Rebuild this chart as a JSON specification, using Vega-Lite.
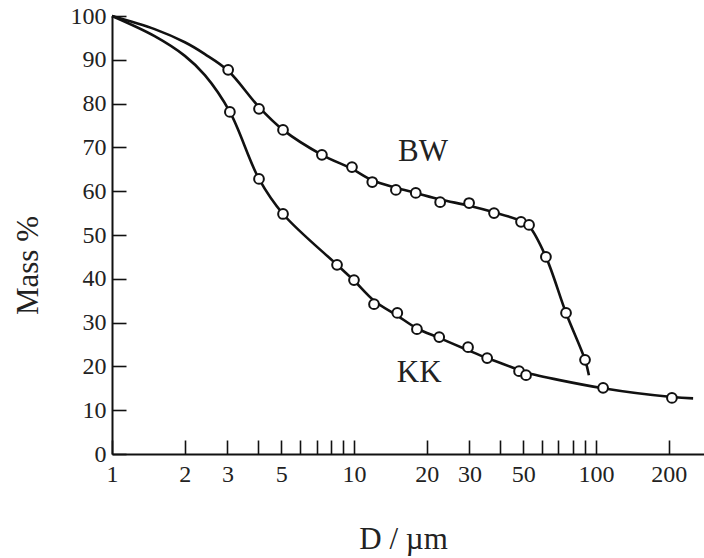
{
  "$schema": "https://vega.github.io/schema/vega-lite/v6.json",
  "width": 592,
  "height": 438,
  "autosize": "none",
  "padding": {"left": 112, "top": 16, "right": 0, "bottom": 104},
  "background": "white",
  "config": {
    "view": {"stroke": null},
    "font": "Liberation Serif",
    "axis": {
      "grid": false,
      "domainColor": "#111",
      "domainWidth": 2,
      "tickColor": "#111",
      "tickWidth": 1.6,
      "tickSize": -14,
      "labelFont": "Liberation Serif",
      "labelFontSize": 24,
      "labelColor": "#222",
      "titleFont": "Liberation Serif",
      "titleFontWeight": "normal",
      "titleColor": "#222",
      "titleFontSize": 31
    }
  },
  "datasets": {
    "curve": [
      {"series": "BW", "D": 1, "M": 100},
      {"series": "BW", "D": 1.5, "M": 97.0},
      {"series": "BW", "D": 2, "M": 94.0},
      {"series": "BW", "D": 2.42, "M": 91.3},
      {"series": "BW", "D": 3.02, "M": 87.5},
      {"series": "BW", "D": 4.05, "M": 79.2},
      {"series": "BW", "D": 5.09, "M": 74.0},
      {"series": "BW", "D": 7.37, "M": 68.3},
      {"series": "BW", "D": 9.81, "M": 65.1},
      {"series": "BW", "D": 11.9, "M": 62.5},
      {"series": "BW", "D": 14.9, "M": 60.8},
      {"series": "BW", "D": 18.0, "M": 59.6},
      {"series": "BW", "D": 22.7, "M": 58.1},
      {"series": "BW", "D": 29.9, "M": 56.7},
      {"series": "BW", "D": 37.9, "M": 55.2},
      {"series": "BW", "D": 49.0, "M": 53.2},
      {"series": "BW", "D": 52.9, "M": 52.0},
      {"series": "BW", "D": 62.1, "M": 45.0},
      {"series": "BW", "D": 75.2, "M": 32.2},
      {"series": "BW", "D": 90.1, "M": 21.5},
      {"series": "BW", "D": 93.5, "M": 18.0},
      {"series": "KK", "D": 1, "M": 100},
      {"series": "KK", "D": 1.5, "M": 95.4},
      {"series": "KK", "D": 2, "M": 90.9},
      {"series": "KK", "D": 2.42, "M": 86.5},
      {"series": "KK", "D": 3.07, "M": 78.1},
      {"series": "KK", "D": 4.05, "M": 62.8},
      {"series": "KK", "D": 5.09, "M": 54.8},
      {"series": "KK", "D": 8.51, "M": 43.2},
      {"series": "KK", "D": 10.0, "M": 39.6},
      {"series": "KK", "D": 12.1, "M": 35.0},
      {"series": "KK", "D": 15.1, "M": 31.6},
      {"series": "KK", "D": 18.2, "M": 28.7},
      {"series": "KK", "D": 22.5, "M": 26.5},
      {"series": "KK", "D": 29.6, "M": 23.7},
      {"series": "KK", "D": 35.5, "M": 21.9},
      {"series": "KK", "D": 48.1, "M": 19.2},
      {"series": "KK", "D": 51.4, "M": 18.6},
      {"series": "KK", "D": 107, "M": 15.0},
      {"series": "KK", "D": 206, "M": 13.0},
      {"series": "KK", "D": 252, "M": 12.7}
    ],
    "pts": [
      {"series": "BW", "D": 3.02, "M": 87.7},
      {"series": "BW", "D": 4.05, "M": 78.8},
      {"series": "BW", "D": 5.09, "M": 74.0},
      {"series": "BW", "D": 7.37, "M": 68.3},
      {"series": "BW", "D": 9.81, "M": 65.5},
      {"series": "BW", "D": 11.9, "M": 62.1},
      {"series": "BW", "D": 14.9, "M": 60.3},
      {"series": "BW", "D": 18.0, "M": 59.6},
      {"series": "BW", "D": 22.7, "M": 57.5},
      {"series": "BW", "D": 29.9, "M": 57.3},
      {"series": "BW", "D": 37.9, "M": 55.0},
      {"series": "BW", "D": 49.0, "M": 53.0},
      {"series": "BW", "D": 52.9, "M": 52.3},
      {"series": "BW", "D": 62.1, "M": 45.0},
      {"series": "BW", "D": 75.2, "M": 32.2},
      {"series": "BW", "D": 90.1, "M": 21.5},
      {"series": "KK", "D": 3.07, "M": 78.1},
      {"series": "KK", "D": 4.05, "M": 62.8},
      {"series": "KK", "D": 5.09, "M": 54.8},
      {"series": "KK", "D": 8.51, "M": 43.2},
      {"series": "KK", "D": 10.0, "M": 39.7},
      {"series": "KK", "D": 12.1, "M": 34.2},
      {"series": "KK", "D": 15.1, "M": 32.2},
      {"series": "KK", "D": 18.2, "M": 28.5},
      {"series": "KK", "D": 22.5, "M": 26.7},
      {"series": "KK", "D": 29.6, "M": 24.4},
      {"series": "KK", "D": 35.5, "M": 21.9},
      {"series": "KK", "D": 48.1, "M": 18.9},
      {"series": "KK", "D": 51.4, "M": 18.0},
      {"series": "KK", "D": 107, "M": 15.1},
      {"series": "KK", "D": 206, "M": 12.8}
    ],
    "labels": [
      {"name": "BW", "D": 19.3, "M": 69.0},
      {"name": "KK", "D": 18.6, "M": 18.5}
    ],
    "top": [{"M": 100}]
  },
  "encoding": {
    "x": {
      "field": "D",
      "type": "quantitative",
      "scale": {"type": "log", "domain": [1, 279.5], "nice": false},
      "axis": {
        "title": "D / µm",
        "values": [1, 2, 3, 4, 5, 6, 7, 8, 9, 10, 20, 30, 40, 50, 60, 70, 80, 90, 100, 200],
        "labelExpr": "indexof([1,2,3,5,10,20,30,50,100,200], datum.value) >= 0 ? datum.label : ''",
        "labelPadding": 22,
        "labelFlush": false,
        "labelOverlap": false,
        "titleX": 291,
        "titleY": 94,
        "titleBaseline": "alphabetic",
        "titleAnchor": "start",
        "titleAlign": "center"
      }
    },
    "y": {
      "field": "M",
      "type": "quantitative",
      "scale": {"domain": [0, 100], "nice": false},
      "axis": {
        "title": "Mass %",
        "values": [0, 10, 20, 30, 40, 50, 60, 70, 80, 90, 100],
        "labelPadding": 20,
        "labelFlush": false,
        "labelOverlap": false,
        "titleX": -84,
        "titleY": 249,
        "titleAngle": -90,
        "titleAlign": "center",
        "titleBaseline": "middle",
        "titleAnchor": "start"
      }
    }
  },
  "layer": [
    {
      "data": {"name": "top"},
      "mark": {"type": "rule", "color": "#333", "strokeWidth": 2},
      "encoding": {"x": {"datum": 1}, "x2": {"datum": 279.5}, "y": {"field": "M", "type": "quantitative"}}
    },
    {
      "data": {"name": "curve"},
      "mark": {"type": "line", "color": "#111", "strokeWidth": 2.6, "interpolate": "catmull-rom"},
      "encoding": {"detail": {"field": "series"}}
    },
    {
      "data": {"name": "pts"},
      "mark": {"type": "point", "shape": "circle", "filled": false, "fill": "white", "fillOpacity": 1, "stroke": "#111", "strokeWidth": 2, "size": 95, "opacity": 1}
    },
    {
      "data": {"name": "labels"},
      "mark": {"type": "text", "font": "Liberation Serif", "fontSize": 31, "color": "#222", "align": "center", "baseline": "middle"},
      "encoding": {"text": {"field": "name"}}
    }
  ]
}
